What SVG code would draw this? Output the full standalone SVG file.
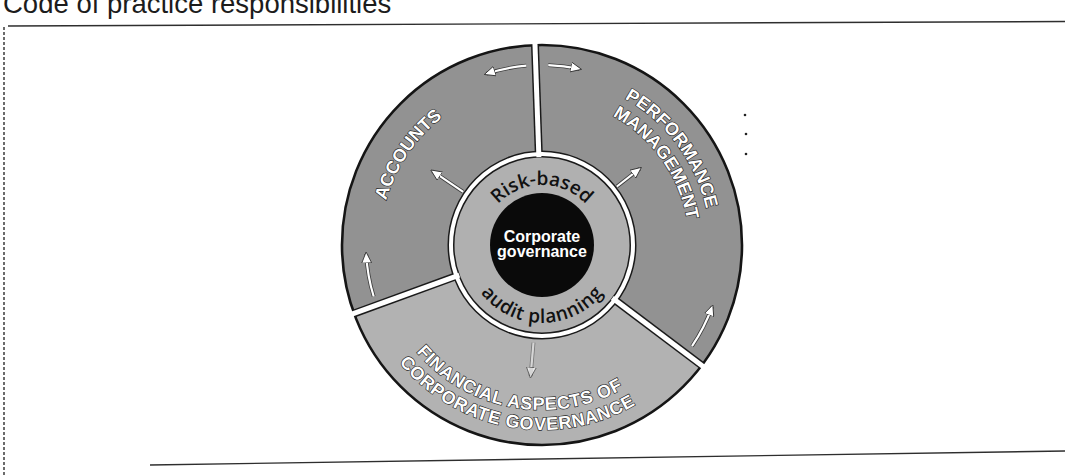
<svg xmlns="http://www.w3.org/2000/svg" width="1065" height="476" viewBox="0 0 1065 476">
  <style>
    .title { font-family: "Liberation Sans", Arial, sans-serif; font-size: 27.5px; fill: #1c1c1c; }
    .seg-dark { fill: #929292; }
    .seg-light { fill: #b2b2b2; }
    .lbl { font-family: "Liberation Sans", Arial, sans-serif; font-weight: bold; font-size: 18px; fill: #ffffff; stroke: #262626; stroke-width: 1.3px; paint-order: stroke; }
    .ring-txt { font-family: "Open Sans", "DejaVu Sans", sans-serif; font-weight: 600; font-size: 19px; fill: #111111; }
    .core-txt { font-family: "Liberation Sans", Arial, sans-serif; font-weight: bold; font-size: 16px; fill: #ffffff; text-anchor: middle; }
    .div-edge { stroke: #1a1a1a; stroke-width: 8; }
    .div-gap { stroke: #ffffff; stroke-width: 5; }
    .arr-edge { fill: none; stroke: #3a3a3a; stroke-width: 3.8; }
    .arr { fill: none; stroke: #ffffff; stroke-width: 2.2; marker-end: url(#head); }
    .frame { fill: none; stroke: #2e2e2e; stroke-width: 1.4; }
  </style>
  <defs>
    <marker id="head" viewBox="0 0 10 10" refX="8" refY="5" markerWidth="5" markerHeight="5" orient="auto" markerUnits="strokeWidth">
      <path d="M0,0.5 L10,5 L0,9.5 Z" fill="#ffffff" stroke="#333333" stroke-width="0.8"/>
    </marker>
    <!-- text baselines; wheel centre is (542,245) -->
    <path id="p-accounts" d="M396.4,316 A162,162 0 0 1 553.3,83.4"/>
    <path id="p-perf" d="M522.9,78.1 A168,168 0 0 1 696.1,312"/>
    <path id="p-mgmt" d="M527.7,98.7 A147,147 0 0 1 675.9,305.7"/>
    <path id="p-fin1" d="M379.5,273.7 A165,165 0 0 0 684.9,327.5"/>
    <path id="p-fin2" d="M359.8,277.1 A185,185 0 0 0 702.2,337.5"/>
    <path id="p-risk" d="M482.9,255.4 A60,60 0 1 1 601.1,255.4"/>
    <path id="p-audit" d="M465.2,258.5 A78,78 0 0 0 618.8,258.5"/>
  </defs>

  <rect width="1065" height="476" fill="#ffffff"/>

  <!-- page title (cropped at top) and frame -->
  <text class="title" x="3" y="13">Code of practice responsibilities</text>
  <path class="frame" d="M8,26 L1065,21.5"/>
  <path class="frame" d="M4,27 L4,476" stroke-dasharray="3 2" stroke-width="1.1"/>
  <path class="frame" d="M150,465 L1065,451"/>
  <g fill="#222222">
    <circle cx="745" cy="115" r="1.3"/>
    <circle cx="746" cy="134" r="1.3"/>
    <circle cx="746" cy="154" r="1.3"/>
  </g>

  <!-- outer segments -->
  <g id="performance-management">
    <path class="seg-dark" d="M542,245 L535,45.1 A200,200 0 0 1 701.7,365.4 Z"/>
  </g>
  <g id="financial-aspects">
    <path class="seg-light" d="M542,245 L701.7,365.4 A200,200 0 0 1 354.1,313.4 Z"/>
  </g>
  <g id="accounts">
    <path class="seg-dark" d="M542,245 L354.1,313.4 A200,200 0 0 1 535,45.1 Z"/>
  </g>
  <circle cx="542" cy="245" r="200" fill="none" stroke="#151515" stroke-width="2.6"/>

  <!-- dividers, dark edges -->
  <g class="div-edge">
    <line x1="538.9" y1="157.1" x2="535" y2="45.1"/>
    <line x1="612.3" y1="298" x2="701.7" y2="365.4"/>
    <line x1="459.3" y1="275.1" x2="354.1" y2="313.4"/>
  </g>

  <!-- inner ring -->
  <g id="risk-based-audit-planning">
    <circle cx="542" cy="245" r="91" fill="#b0b0b0" stroke="#1a1a1a" stroke-width="7"/>
  </g>

  <!-- dividers, white gaps -->
  <g class="div-gap">
    <line x1="538.9" y1="157.1" x2="534.9" y2="42.1"/>
    <line x1="612.3" y1="298" x2="704.1" y2="367.2"/>
    <line x1="459.3" y1="275.1" x2="351.2" y2="314.4"/>
  </g>
  <circle cx="542" cy="245" r="91" fill="none" stroke="#ffffff" stroke-width="4"/>

  <!-- centre -->
  <g id="corporate-governance">
    <circle cx="542" cy="245" r="52" fill="#0a0a0a"/>
    <text class="core-txt" x="542" y="242">Corporate</text>
    <text class="core-txt" x="542" y="257">governance</text>
  </g>

  <!-- ring labels -->
  <text class="ring-txt"><textPath href="#p-risk" startOffset="50%" text-anchor="middle">Risk-based</textPath></text>
  <text class="ring-txt" letter-spacing="0.6"><textPath href="#p-audit" startOffset="50%" text-anchor="middle">audit planning</textPath></text>

  <!-- segment labels -->
  <text class="lbl"><textPath href="#p-accounts" startOffset="50%" text-anchor="middle">ACCOUNTS</textPath></text>
  <text class="lbl"><textPath href="#p-perf" startOffset="50%" text-anchor="middle">PERFORMANCE</textPath></text>
  <text class="lbl" letter-spacing="0.1"><textPath href="#p-mgmt" startOffset="50%" text-anchor="middle">MANAGEMENT</textPath></text>
  <text class="lbl" letter-spacing="0.6"><textPath href="#p-fin1" startOffset="50%" text-anchor="middle">FINANCIAL ASPECTS OF</textPath></text>
  <text class="lbl" letter-spacing="0.7"><textPath href="#p-fin2" startOffset="50%" text-anchor="middle">CORPORATE GOVERNANCE</textPath></text>

  <!-- arrows -->
  <g id="connectors">
    <g>
      <path class="arr-edge" d="M526.3,65.7 A180,180 0 0 0 486.4,73.8"/>
      <path class="arr-edge" d="M548.3,65.1 A180,180 0 0 1 579.4,68.9"/>
      <path class="arr-edge" d="M692,346.2 A181,181 0 0 0 712.1,306.9"/>
      <path class="arr-edge" d="M373.7,296.5 A176,176 0 0 1 366.2,254.2"/>
      <path class="arr-edge" d="M463.2,191.9 L432.6,171.2"/>
      <path class="arr-edge" d="M616.9,186.5 L639.7,168.7"/>
      <path class="arr-edge" d="M533.5,342.6 L530.6,376" opacity="0.5"/>
    </g>
    <g>
      <path class="arr" d="M526.3,65.7 A180,180 0 0 0 486.4,73.8"/>
      <path class="arr" d="M548.3,65.1 A180,180 0 0 1 579.4,68.9"/>
      <path class="arr" d="M692,346.2 A181,181 0 0 0 712.1,306.9"/>
      <path class="arr" d="M373.7,296.5 A176,176 0 0 1 366.2,254.2"/>
      <path class="arr" d="M463.2,191.9 L432.6,171.2"/>
      <path class="arr" d="M616.9,186.5 L639.7,168.7"/>
      <path class="arr" d="M533.5,342.6 L530.6,376" opacity="0.7"/>
    </g>
  </g>
</svg>
